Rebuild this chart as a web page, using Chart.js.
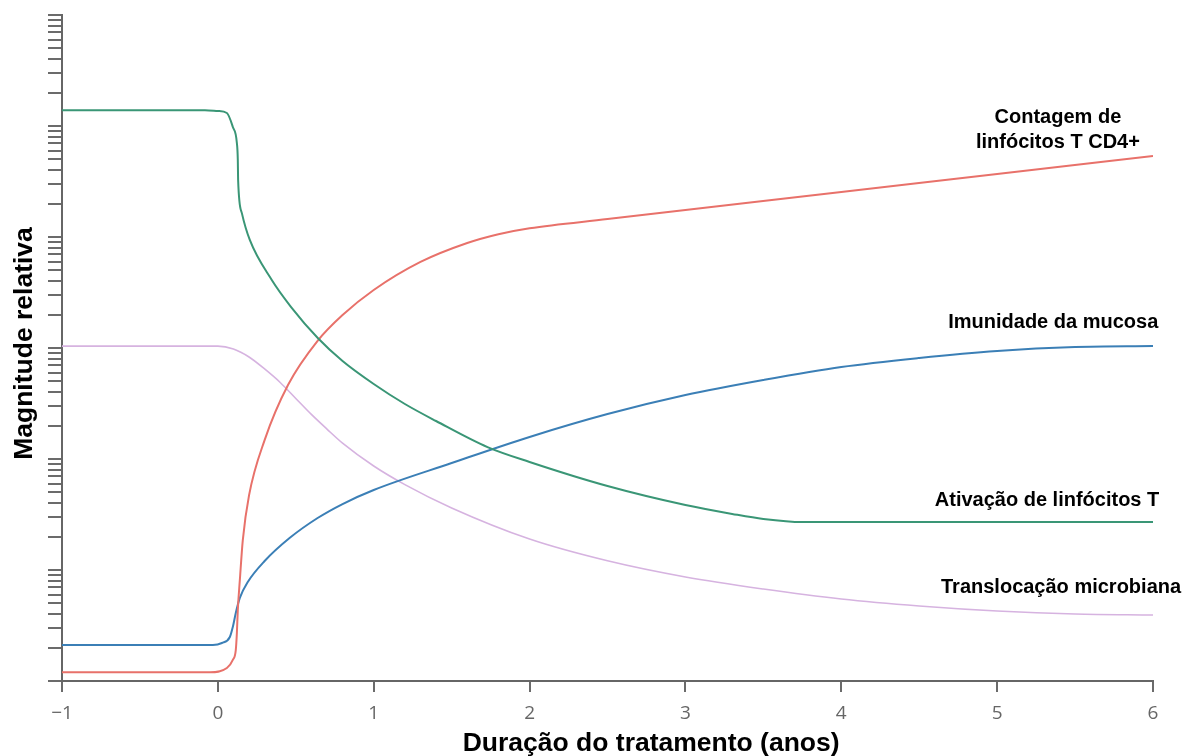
<!DOCTYPE html>
<html>
<head>
<meta charset="utf-8">
<script src="https://cdn.jsdelivr.net/npm/chart.js@4/dist/chart.umd.min.js"></script>
<style>
  html, body { margin: 0; padding: 0; background: #fff; }
  #wrap { width: 1187px; height: 756px; position: relative; }
</style>
</head>
<body>
<div id="wrap"><canvas id="c" width="1187" height="756"></canvas></div>
<script>
// ---- Data ----
const xTickLabels = ['\u22121', '0', '1', '2', '3', '4', '5', '6'];
const xTitle = 'Duração do tratamento (anos)';
const yTitle = 'Magnitude relativa';

const ativacaoX = [-1, -0.083, 0, 0.058, 0.096, 0.122, 0.128, 0.130, 0.154, 0.205, 0.346, 0.47, 0.641, 0.8, 1.0, 1.2, 1.4, 1.73, 2.0, 2.5, 3.0, 3.3, 3.5, 3.75, 6];
const ativacaoY = [139000, 139000, 136500, 131000, 98000, 70300, 49400, 32600, 16400, 9400, 4100, 2340, 1231, 764, 474, 313, 220, 128, 94, 57.1, 38.5, 32, 28.8, 27, 27];

const cd4X = [-1, -0.051, 0.058, 0.096, 0.115, 0.122, 0.128, 0.141, 0.160, 0.2, 0.3, 0.45, 0.64, 0.8, 1.0, 1.3, 1.6, 1.8, 2.0, 2.5, 3.0, 4.0, 5.0, 6.0];
const cd4Y = [1.2, 1.2, 1.31, 1.55, 1.9, 2.71, 4.36, 8.1, 18.6, 47, 148, 464, 1160, 1980, 3330, 5960, 8830, 10600, 12000, 14500, 17500, 25400, 37000, 53700];

const mucosaX = [-1, -0.032, 0.026, 0.077, 0.096, 0.115, 0.141, 0.192, 0.30, 0.46, 0.64, 0.8, 1.0, 1.5, 2.0, 2.5, 3.0, 3.5, 4.0, 4.5, 5.0, 5.5, 6.0];
const mucosaY = [2.11, 2.11, 2.2, 2.49, 3.07, 4.1, 5.6, 7.8, 12.05, 19.4, 29.4, 39.3, 52.6, 92, 158, 254, 377, 515, 675, 813, 940, 1020, 1040];

const translocX = [-1, 0.0, 0.1, 0.2, 0.3, 0.4, 0.5, 0.6, 0.7, 0.8, 1.0, 1.2, 1.5, 2.0, 2.5, 3.0, 3.5, 4.0, 4.5, 5.0, 5.5, 6.0];
const translocY = [1040, 1040, 979, 830, 647, 489, 351, 252, 186, 139, 86.5, 58.8, 36.2, 19.0, 12.1, 8.65, 6.74, 5.48, 4.74, 4.27, 4.01, 3.93];

// Series labels: text lines and anchor (data coordinates)
const seriesLabels = [
  { lines: ['Contagem de', 'linfócitos T CD4+'], x: 5.39, y: 120000 },
  { lines: ['Imunidade da mucosa'], x: 5.36, y: 1715 },
  { lines: ['Ativação de linfócitos T'], x: 5.32, y: 42.7 },
  { lines: ['Translocação microbiana'], x: 5.41, y: 6.9 }
];

const toPts = (xs, ys) => xs.map((x, i) => ({ x: x, y: ys[i] }));

const labelPlugin = {
  id: 'seriesLabels',
  afterDraw(chart) {
    const ctx = chart.ctx;
    const xs = chart.scales.x, ys = chart.scales.y;
    ctx.save();
    ctx.fillStyle = '#000';
    ctx.font = 'bold 20px "Liberation Sans", Arial, sans-serif';
    ctx.textAlign = 'center';
    ctx.textBaseline = 'middle';
    seriesLabels.forEach(l => {
      const px = xs.getPixelForValue(l.x);
      const py = ys.getPixelForValue(l.y);
      l.lines.forEach((t, i) => ctx.fillText(t, px, py + i * 25));
    });
    // axis titles
    ctx.font = 'bold 26.5px "Liberation Sans", Arial, sans-serif';
    ctx.textBaseline = 'alphabetic';
    ctx.fillText(xTitle, xs.getPixelForValue(2.78), chart.height - 5);
    ctx.translate(31.5, (ys.top + ys.bottom) / 2 - 4.5);
    ctx.rotate(-Math.PI / 2);
    ctx.fillText(yTitle, 0, 0);
    ctx.restore();
  }
};

const common = { pointRadius: 0, pointHoverRadius: 0, fill: false, cubicInterpolationMode: 'monotone' };

new Chart(document.getElementById('c'), {
  type: 'line',
  data: {
    datasets: [
      Object.assign({ label: 'Ativação de linfócitos T', data: toPts(ativacaoX, ativacaoY), borderColor: '#3a9676', borderWidth: 2 }, common),
      Object.assign({ label: 'Contagem de linfócitos T CD4+', data: toPts(cd4X, cd4Y), borderColor: '#e8716a', borderWidth: 2 }, common),
      Object.assign({ label: 'Imunidade da mucosa', data: toPts(mucosaX, mucosaY), borderColor: '#3b7fb6', borderWidth: 2 }, common),
      Object.assign({ label: 'Translocação microbiana', data: toPts(translocX, translocY), borderColor: '#d6b3e0', borderWidth: 1.6 }, common)
    ]
  },
  options: {
    responsive: false,
    animation: false,
    layout: { padding: { top: 15, right: 34, left: 0, bottom: 0 } },
    plugins: { legend: { display: false }, tooltip: { enabled: false } },
    scales: {
      x: {
        type: 'linear',
        min: -1, max: 6,
        afterFit: s => { s.height = 75; },
        ticks: {
          stepSize: 1,
          padding: 10,
          color: '#666',
          font: { family: '"Open Sans", sans-serif', size: 19 },
          callback: (v) => xTickLabels[Math.round(v) + 1]
        },
        grid: { drawOnChartArea: false, drawTicks: true, tickLength: 11, color: '#6b6b6b', lineWidth: 2 },
        border: { display: true, color: '#666', width: 2 },
        title: { display: false }
      },
      y: {
        type: 'logarithmic',
        min: 1, max: 1000000,
        afterFit: s => { s.width = 62; },
        afterBuildTicks: s => {
          s.ticks = s.ticks.filter(t => {
            const m = t.value / Math.pow(10, Math.floor(Math.log10(t.value) + 1e-9));
            return Math.abs(m - 1.5) > 0.01;
          });
        },
        ticks: { display: false, autoSkip: false },
        grid: { drawOnChartArea: false, drawTicks: true, tickLength: 14, color: '#6b6b6b', lineWidth: 2 },
        border: { display: true, color: '#666', width: 2 },
        title: { display: false }
      }
    }
  },
  plugins: [labelPlugin]
});
</script>
</body>
</html>
